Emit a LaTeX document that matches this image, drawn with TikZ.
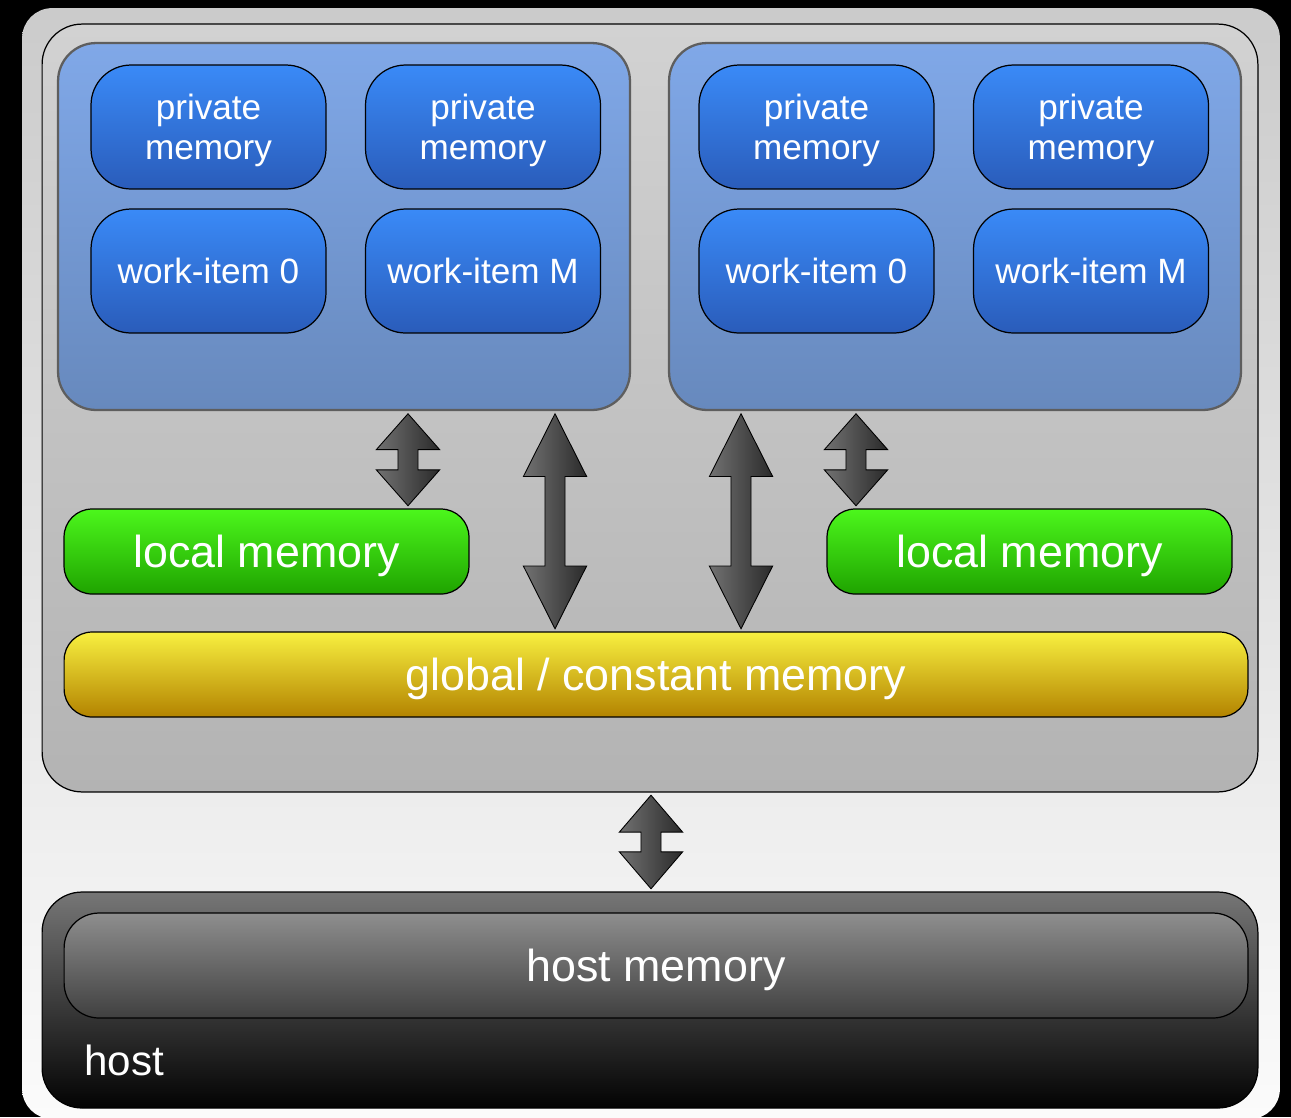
\documentclass[tikz,border=0pt]{standalone}
\usepackage{fontspec}
\setmainfont{Liberation Sans}
\usetikzlibrary{calc}

\definecolor{frametop}{HTML}{CBCBCB}
\definecolor{framebot}{HTML}{FBFBFB}
\definecolor{devtop}{HTML}{D2D2D2}
\definecolor{devbot}{HTML}{B3B3B3}
\definecolor{unittop}{HTML}{80A8E8}
\definecolor{unitbot}{HTML}{6789BD}
\definecolor{unitline}{HTML}{5E5E5E}
\definecolor{itemtop}{HTML}{3A8AF7}
\definecolor{itembot}{HTML}{2A5CBA}
\definecolor{localtop}{HTML}{4CF71C}
\definecolor{localbot}{HTML}{1FA300}
\definecolor{globtop}{HTML}{F8F040}
\definecolor{globbot}{HTML}{B38300}
\definecolor{hosttop}{HTML}{767676}
\definecolor{hostbot}{HTML}{030303}
\definecolor{hmemtop}{HTML}{8E8E8E}
\definecolor{hmembot}{HTML}{404040}
\definecolor{arrowl}{HTML}{727272}
\definecolor{arrowr}{HTML}{2A2A2A}

% block arrow with a head at each end: column x, upper node, lower node, head length
\newcommand{\bidir}[4]{%
  \path[arrowbody] let \p0=(#1,0), \p1=(#2.south), \p2=(#3.north) in
    (\x0,\y1-1.5pt) -- (\x0+18pt,\y1-1.5pt-#4) -- (\x0+5.7pt,\y1-1.5pt-#4)
    -- (\x0+5.7pt,\y2+1.5pt+#4) -- (\x0+18pt,\y2+1.5pt+#4) -- (\x0,\y2+1.5pt)
    -- (\x0-18pt,\y2+1.5pt+#4) -- (\x0-5.7pt,\y2+1.5pt+#4)
    -- (\x0-5.7pt,\y1-1.5pt-#4) -- (\x0-18pt,\y1-1.5pt-#4) -- cycle;
}

\begin{document}
\begin{tikzpicture}[x=0.02cm,y=-0.02cm,
    box/.style={draw=black,line width=0.7pt,rectangle,rounded corners=0.8cm,text=white,align=center,text depth=0pt},
    item/.style={box,minimum width=4.7cm,minimum height=2.48cm,top color=itemtop,bottom color=itembot,text=white,font=\fontsize{20}{22.7}\selectfont},
    unit/.style={draw=unitline,line width=1.3pt,rectangle,rounded corners=0.76cm,minimum width=11.44cm,minimum height=7.34cm,top color=unittop,bottom color=unitbot},
    wide/.style={box,rounded corners=0.56cm,minimum height=1.7cm,text=white,font=\fontsize{25.5}{28}\selectfont},
    arrowbody/.style={draw=black,line width=0.5pt,left color=arrowl,right color=arrowr}]

    \clip (0,0) rectangle (1291,1117);
    \fill[black] (0,0) rectangle (1291,1117);

    % Outer panel and device
    \node[rectangle,rounded corners=0.6cm,minimum width=25.16cm,minimum height=22.22cm,top color=frametop,bottom color=framebot] (frame) at (651,563.5) {};
    \node[box,minimum width=24.32cm,minimum height=15.36cm,top color=devtop,bottom color=devbot] (device) at (650,408) {};

    % Compute units
    \node[unit] (cuA) at (344,226.5) {};
    \node[unit] (cuB) at (955,226.5) {};

    % Private memories and work-items
    \node[item] (pmA0) at (208.5,127) {private\\memory};
    \node[item] (pmAM) at (483,127) {private\\memory};
    \node[item] (pmB0) at (816.5,127) {private\\memory};
    \node[item] (pmBM) at (1091,127) {private\\memory};
    \node[item] (wiA0) at (208.5,271) {work-item 0};
    \node[item] (wiAM) at (483,271) {work-item M};
    \node[item] (wiB0) at (816.5,271) {work-item 0};
    \node[item] (wiBM) at (1091,271) {work-item M};

    % Local and global memory
    \node[wide,minimum width=8.1cm,top color=localtop,bottom color=localbot] (lmA) at (266.5,551.5) {local memory};
    \node[wide,minimum width=8.1cm,top color=localtop,bottom color=localbot] (lmB) at (1029.5,551.5) {local memory};
    \node[wide,minimum width=23.68cm,top color=globtop,bottom color=globbot] (gmem) at (656,674.5) {global / constant memory};

    % Host
    \node[box,minimum width=24.32cm,minimum height=4.32cm,top color=hosttop,bottom color=hostbot] (host) at (650,1000) {};
    \node[wide,rounded corners=0.7cm,minimum width=23.68cm,minimum height=2.1cm,top color=hmemtop,bottom color=hmembot] (hmem) at (656,965.5) {host memory};
    \node[text=white,anchor=west,font=\fontsize{24}{28}\selectfont] (hostlabel) at (78,1060) {host};

    % Arrows
    \bidir{408}{cuA}{lmA}{20.4pt}
    \bidir{555}{cuA}{gmem}{35.7pt}
    \bidir{741}{cuB}{gmem}{35.7pt}
    \bidir{856}{cuB}{lmB}{20.4pt}
    \bidir{651}{device}{host}{21pt}
\end{tikzpicture}
\end{document}
